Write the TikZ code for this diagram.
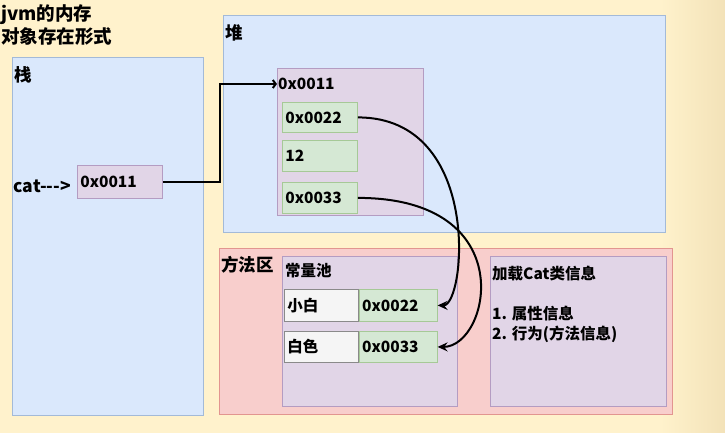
\documentclass[tikz,border=0pt]{standalone}
\usepackage{fontspec}
\setmainfont{Noto Sans CJK SC}
\usepackage{tikz}
\usetikzlibrary{arrows.meta}
\definecolor{bgCream}{HTML}{FFF2CC}
\definecolor{bgDark}{HTML}{F3E2B8}
\definecolor{blueFill}{HTML}{DAE8FC}
\definecolor{blueLine}{HTML}{A3BAD8}
\definecolor{purpleFill}{HTML}{E1D5E7}
\definecolor{purpleLine}{HTML}{B49CC2}
\definecolor{greenFill}{HTML}{D5E8D4}
\definecolor{greenLine}{HTML}{A6C997}
\definecolor{redFill}{HTML}{F8CECC}
\definecolor{redLine}{HTML}{E29590}
\definecolor{whiteFill}{HTML}{F5F5F5}
\definecolor{whiteLine}{HTML}{8A8A8A}

\begin{document}
\begin{tikzpicture}[x=1pt, y=-1pt, font=\bfseries\fontsize{15.5}{18}\selectfont,
  area/.style 2 args={fill=#1, draw=#2, line width=0.8, anchor=north west, inner sep=0pt},
  cell/.style 2 args={fill=#1, draw=#2, line width=0.8, anchor=north west, align=left,
    inner xsep=3pt, inner ysep=0pt},
  tag/.style={anchor=north west, inner sep=1pt, font=\bfseries\fontsize{17.5}{23}\selectfont},
  ref/.style={line width=2, -{Stealth[length=10pt, width=9pt, inset=3.5pt]}}]
  % ================================================================
  % background
  % ================================================================
  \fill[bgCream] (0,0) rectangle (725,433);
  \shade[left color=bgCream, right color=bgDark] (660,0) rectangle (725,433);
  \useasboundingbox (0,0) rectangle (725,433);
  \node[tag, align=left, font=\bfseries\fontsize{18.5}{23}\selectfont] (title) at (0,3) {jvm的内存\\对象存在形式};
  % ================================================================
  % stack
  % ================================================================
  \node[area={blueFill}{blueLine}, minimum width=191, minimum height=358] (stack) at (12,57) {};
  \node[tag] (stacktag) at ([shift={(1,8)}]stack.north west) {栈};
  \node[cell={purpleFill}{purpleLine}, text width=79, minimum height=33] (scell) at (77,165) {0x0011};
  \node[anchor=east, inner sep=1pt, font=\bfseries\fontsize{17.5}{20}\selectfont] (catlabel)
    at ([shift={(-5,4)}]scell.west) {cat{-}{-}{-}>};
  % ================================================================
  % heap
  % ================================================================
  \node[area={blueFill}{blueLine}, minimum width=442, minimum height=217] (heap) at (223,15) {};
  \node[tag] (heaptag) at ([shift={(1,8)}]heap.north west) {堆};
  \node[area={purpleFill}{purpleLine}, minimum width=146, minimum height=147] (hobj) at (277,68) {};
  \node[anchor=west, inner sep=1pt] (objaddr) at ([shift={(0,16)}]hobj.north west) {0x0011};
  \node[cell={greenFill}{greenLine}, text width=69, minimum height=30] (h22) at (282,102) {0x0022};
  \node[cell={greenFill}{greenLine}, text width=69, minimum height=31] (hage) at (282,140) {12};
  \node[cell={greenFill}{greenLine}, text width=69, minimum height=31] (h33) at (282,182) {0x0033};
  % ================================================================
  % method area
  % ================================================================
  \node[area={redFill}{redLine}, minimum width=453, minimum height=166] (method) at (219,248) {};
  \node[tag] (methodtag) at ([shift={(1,7)}]method.north west) {方法区};
  \node[area={purpleFill}{purpleLine}, minimum width=175, minimum height=150] (pool) at (282,256) {};
  \node[anchor=north west, inner sep=1pt] (pooltag) at ([shift={(2,6)}]pool.north west) {常量池};
  \node[cell={whiteFill}{whiteLine}, text width=68, minimum height=32] (pname1) at (284,289) {小白};
  \node[cell={greenFill}{greenLine}, text width=72, minimum height=32] (p22) at (pname1.north east) {0x0022};
  \node[cell={whiteFill}{whiteLine}, text width=68, minimum height=31] (pname2) at (284,331) {白色};
  \node[cell={greenFill}{greenLine}, text width=72, minimum height=31] (p33) at (pname2.north east) {0x0033};
  \node[area={purpleFill}{purpleLine}, minimum width=176, minimum height=150] (cls) at (490,256) {};
  \node[anchor=north west, align=left, inner sep=1pt, font=\bfseries\fontsize{15.5}{20}\selectfont] (clsinfo)
    at ([shift={(1,9)}]cls.north west) {加载Cat类信息\\[20pt]1. 属性信息\\2. 行为(方法信息)};
  % ================================================================
  % references
  % ================================================================
  \draw[line width=2, -{Straight Barb[length=3pt, width=8pt]}] (scell.east) -- ++(57,0) |- (objaddr.west);
  \draw[ref] (h22.east) .. controls +(125,0) and +(28,0) .. (p22.east);
  \draw[ref] (h33.east) .. controls +(165,0) and +(52,0) .. (p33.east);
\end{tikzpicture}
\end{document}
